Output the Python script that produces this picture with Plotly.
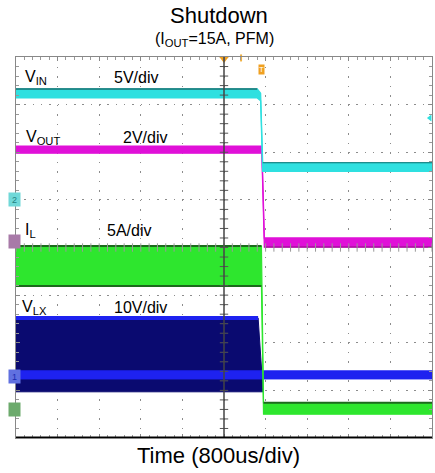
import plotly.graph_objects as go

# Time axis in screen divisions (800 us/div, 10 divisions); amplitudes in screen divisions (8 divisions)
t_vin = [0, 5.80, 5.88, 5.93, 10]
vin_hi = [7.33, 7.33, 7.24, 5.78, 5.78]
vin_lo = [7.14, 7.14, 7.08, 5.60, 5.60]

t_vout = [0, 5.91, 5.97, 10]
vout_hi = [6.13, 6.13, 4.20, 4.20]
vout_lo = [5.98, 5.98, 4.01, 4.01]

t_il = [0, 5.90, 5.95, 10]
il_hi = [4.03, 4.03, 0.74, 0.74]
il_lo = [3.19, 3.19, 0.50, 0.50]

t_vlx = [0, 5.82, 5.94]
vlx_hi = [2.52, 2.52, 0.97]
vlx_lo = [0.97, 0.97, 0.97]

t_vlx_base = [0, 10]
vlx_base_hi = [1.41, 1.41]
vlx_base_lo = [1.24, 1.24]

channel_labels = ["V<sub>IN</sub>", "V<sub>OUT</sub>", "I<sub>L</sub>", "V<sub>LX</sub>"]
scale_labels = ["5V/div", "2V/div", "5A/div", "10V/div"]
label_x = [0.17, 0.19, 0.17, 0.10]
scale_x = [2.31, 2.52, 2.14, 2.31]
label_y = [7.56, 6.30, 4.35, 2.75]

FONT = "Liberation Sans, Arial, sans-serif"
CYAN = "#2fe0e0"
MAGENTA = "#e010d8"
GREEN = "#2ee62e"
NAVY = "#0a0a70"
BLUE = "#1e22f0"
DKGREEN = "#1c6a1c"
DKTEAL = "#1a7070"

fig = go.Figure()


def band(x, hi, lo, fill, edge, w=1):
    fig.add_trace(go.Scatter(x=x, y=lo, mode="lines", line=dict(color=edge, width=w),
                             hoverinfo="skip", showlegend=False))
    fig.add_trace(go.Scatter(x=x, y=hi, mode="lines", line=dict(color=edge, width=w),
                             fill="tonexty", fillcolor=fill, hoverinfo="skip", showlegend=False))


def edge(x, y, color, w):
    fig.add_trace(go.Scatter(x=x, y=y, mode="lines", line=dict(color=color, width=w),
                             hoverinfo="skip", showlegend=False))


# VLX (navy envelope + bright blue baseline)
band(t_vlx, vlx_hi, vlx_lo, NAVY, NAVY)
edge(t_vlx[:2], vlx_hi[:2], BLUE, 4)
band(t_vlx_base, vlx_base_hi, vlx_base_lo, BLUE, BLUE)
# IL
band(t_il, il_hi, il_lo, GREEN, GREEN, 1.2)
edge(t_il[:2], il_hi[:2], DKGREEN, 2)
edge(t_il[:2], il_lo[:2], DKGREEN, 2)
edge(t_il[2:], il_hi[2:], DKGREEN, 2)
# VOUT
band(t_vout, vout_hi, vout_lo, MAGENTA, MAGENTA, 1.3)
edge(t_vout[2:], vout_lo[2:], "#8a1080", 1.2)
# VIN
band(t_vin, vin_hi, vin_lo, CYAN, CYAN, 1.3)
edge(t_vin[:2], vin_hi[:2], DKTEAL, 1.5)
edge(t_vin[3:], vin_hi[3:], DKTEAL, 1.2)

# centre-line tick marks
fig.add_trace(go.Scatter(x=[5] * 41, y=[i * 0.2 for i in range(41)], mode="markers",
                         marker=dict(symbol="line-ew", size=6, line=dict(color="#555", width=1)),
                         hoverinfo="skip", showlegend=False))
fig.add_trace(go.Scatter(x=[i * 0.2 for i in range(51)], y=[4] * 51, mode="markers",
                         marker=dict(symbol="line-ns", size=6, line=dict(color="#999", width=1)),
                         hoverinfo="skip", showlegend=False))

# trigger markers
fig.add_trace(go.Scatter(x=[5], y=[7.96], mode="markers", cliponaxis=False,
                         marker=dict(symbol="triangle-down", size=8, color="#f0a020"),
                         hoverinfo="skip", showlegend=False))
fig.add_trace(go.Scatter(x=[5.41], y=[7.98], mode="markers", cliponaxis=False,
                         marker=dict(symbol="line-ns", size=5, line=dict(color="#f0b040", width=2)),
                         hoverinfo="skip", showlegend=False))
fig.add_trace(go.Scatter(x=[9.95], y=[6.72], mode="markers", cliponaxis=False,
                         marker=dict(symbol="triangle-left", size=6, color=CYAN),
                         hoverinfo="skip", showlegend=False))

annotations = []
for lab, sc, lx, sx, ly in zip(channel_labels, scale_labels, label_x, scale_x, label_y):
    annotations.append(dict(x=lx, y=ly, xref="x", yref="y", text=lab, showarrow=False,
                            xanchor="left", yanchor="middle", font=dict(family=FONT, size=16, color="black")))
    annotations.append(dict(x=sx, y=ly, xref="x", yref="y", text=sc, showarrow=False,
                            xanchor="left", yanchor="middle", font=dict(family=FONT, size=16, color="black")))

# orange "T" marker
annotations.append(dict(x=5.91, y=7.73, xref="x", yref="y", text="T", showarrow=False,
                        bgcolor="#f0a020", borderpad=0, font=dict(family=FONT, size=8, color="white")))

# channel ground markers on the left
for txt, yv, bg, fc in [("2", 5.0, "#70d8d8", "#208080"), ("", 4.12, "#a87aa8", "#a87aa8"),
                        ("1", 1.3, "#6070e0", "#1a2ab0"), ("", 0.6, "#6caa6c", "#6caa6c")]:
    annotations.append(dict(x=-0.02, y=yv, xref="paper", yref="y", text=txt if txt else "&nbsp;",
                            showarrow=False, bgcolor=bg, borderpad=1, width=9, height=11,
                            font=dict(family=FONT, size=9, color=fc)))

# titles
annotations += [
    dict(x=0.489, y=1.108, xref="paper", yref="paper", text="Shutdown", showarrow=False,
         xanchor="center", yanchor="middle", font=dict(family=FONT, size=22, color="black")),
    dict(x=0.478, y=1.046, xref="paper", yref="paper", text="(I<sub>OUT</sub>=15A, PFM)", showarrow=False,
         xanchor="center", yanchor="middle", font=dict(family=FONT, size=16, color="black")),
    dict(x=0.487, y=-0.045, xref="paper", yref="paper", text="Time (800us/div)", showarrow=False,
         xanchor="center", yanchor="middle", font=dict(family=FONT, size=22, color="black")),
]

shapes = [
    dict(type="line", x0=5, x1=5, y0=0, y1=8, xref="x", yref="y", line=dict(color="#444", width=1.5), layer="above"),
    dict(type="line", x0=0, x1=10, y0=0, y1=0, xref="x", yref="y", line=dict(color="black", width=3), layer="above"),
]

fig.update_layout(
    width=435, height=473,
    margin=dict(l=16, r=3, t=57, b=35),
    paper_bgcolor="white", plot_bgcolor="white",
    showlegend=False,
    annotations=annotations,
    shapes=shapes,
    xaxis=dict(range=[0, 10], dtick=1, showticklabels=False, showgrid=True, gridcolor="#8c8c8c",
               gridwidth=1.2, griddash="1.5px,8px", zeroline=False, showline=True, linecolor="#888",
               linewidth=1, mirror="ticks", ticks="inside", ticklen=4, tickcolor="#888",
               minor=dict(dtick=0.2, ticks="inside", ticklen=3, tickcolor="#999", showgrid=False)),
    yaxis=dict(range=[0, 8], dtick=1, showticklabels=False, showgrid=True, gridcolor="#8c8c8c",
               gridwidth=1.2, griddash="1.5px,6.8px", zeroline=False, showline=True, linecolor="#888",
               linewidth=1, mirror="ticks", ticks="inside", ticklen=4, tickcolor="#888",
               minor=dict(dtick=0.2, ticks="inside", ticklen=3, tickcolor="#999", showgrid=False)),
)

fig.write_html("out.html", config={"displayModeBar": False},
               post_script="document.body.style.margin='0';")
